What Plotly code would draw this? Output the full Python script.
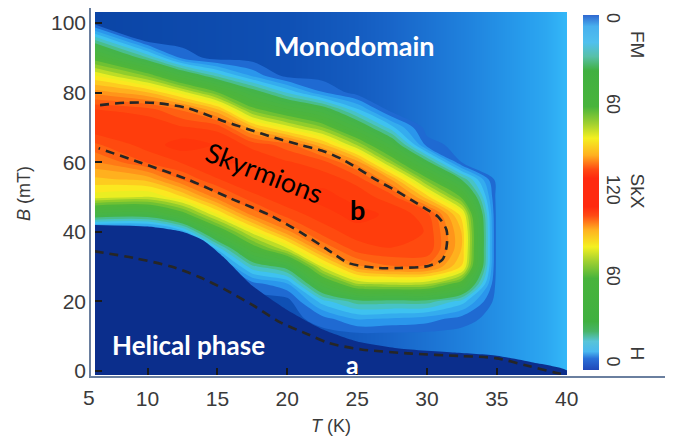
import plotly.graph_objects as go

# ---------------- data ----------------
# skyrmion density map (0 = none, 120 = full SkX); rows = B values, cols = T values
sk_T = [6, 10, 12.5, 15, 17.5, 20, 22.5, 25, 27.5, 30, 32.5, 35, 40]
sk_B = [0, 5, 10, 15, 20, 25, 30, 35, 40, 45, 50, 55, 60, 65, 70, 75, 80, 85, 90, 95, 100, 105]
sk_z = [
    [0, 0, 0, 0, 0, 0, 0, 0, 0, 0, 0, 0, 0],            # B 0
    [0, 0, 0, 0, 0, 0, 0, 0, 0, 0, 0, 0, 0],            # B 5
    [0, 0, 0, 0, 0, 0, 0, 0, 0, 0, 0, 0, 0],            # B 10
    [0, 0, 0, 0, 0, 0, 5, 13, 12, 10, 5, 0, 0],         # B 15
    [0, 0, 0, 0, 0, 0, 20, 30, 30, 30, 20, 0, 0],       # B 20
    [0, 0, 0, 0, 5, 12, 46, 67, 69, 68, 52, 0, 0],      # B 25
    [0, 0, 0, 0, 26, 36, 73, 96, 102, 101, 82, 0, 0],   # B 30
    [0, 0, 0, 18, 51, 71, 97, 110, 112, 112, 87, 0, 0], # B 35
    [0, 0, 14, 49, 75, 96, 110, 115, 117, 112, 87, 0, 0],      # B 40
    [40, 38, 53, 77, 99, 110, 115, 120, 116, 110, 80, 0, 0],   # B 45
    [75, 72, 82, 100, 111, 116, 120, 115, 110, 85, 56, 0, 0],  # B 50
    [86, 89, 103, 112, 117, 118, 115, 111, 92, 60, 32, 0, 0],  # B 55
    [96, 108, 113, 118, 117, 113, 110, 95, 64, 35, 2, 0, 0],   # B 60
    [106, 115, 120, 117, 111, 105, 89, 67, 41, 5, 0, 0, 0],    # B 65
    [116, 117, 113, 111, 89, 75, 63, 42, 19, 0, 0, 0, 0],      # B 70
    [113, 110, 102, 89, 61, 49, 39, 19, 0, 0, 0, 0, 0],        # B 75
    [96, 88, 75, 58, 38, 22, 8, 0, 0, 0, 0, 0, 0],             # B 80
    [78, 61, 42, 25, 11, 0, 0, 0, 0, 0, 0, 0, 0],              # B 85
    [55, 28, 6, 0, 0, 0, 0, 0, 0, 0, 0, 0, 0],                 # B 90
    [30, 0, 0, 0, 0, 0, 0, 0, 0, 0, 0, 0, 0],                  # B 95
    [2, 0, 0, 0, 0, 0, 0, 0, 0, 0, 0, 0, 0],                   # B 100
    [0, 0, 0, 0, 0, 0, 0, 0, 0, 0, 0, 0, 0],                   # B 105
]

# monodomain (field-polarised) background shade versus T
fm_T = [6, 10, 15, 20, 25, 30, 33, 36, 38.5, 40]
fm_shade = [0, 0.05, 0.12, 0.2, 0.32, 0.5, 0.62, 0.76, 0.88, 1.0]

# upper edge of the helical phase region
hel_T = [6, 10, 12.5, 14, 15.5, 17.5, 20, 22.5, 25, 28, 32, 35, 37.5, 40]
hel_B = [42, 41.5, 40, 37.5, 32.5, 24.5, 17.5, 12, 8.5, 6.5, 5.3, 4.4, 2.5, 0.2]

# dashed boundary "a" (helical phase)
a_T = [6.2, 9.0, 11.7, 13.7, 15.5, 17.5, 19.5, 21.5, 23.0, 25.3, 28.9, 32.4, 34.9, 37.2, 39.2, 40.0]
a_B = [34.4, 32.5, 30.0, 27.0, 23.5, 19.0, 14.0, 10.5, 8.0, 6.2, 5.0, 4.3, 3.7, 1.5, -0.5, -1.0]

# dashed boundary "b" (skyrmion lattice)
b_T = [6.6, 8.5, 10.6, 12.9, 15.3, 17.2, 19.1, 21.0, 22.5, 24.0, 26.5, 27.7, 28.9, 30.0, 30.8,
       31.4, 31.4, 31.1, 30.1, 28.0, 26.5, 24.4, 23.2, 21.3, 18.9, 16.0, 12.9, 9.4, 6.5]
b_B = [76.4, 77.1, 77.0, 75.5, 72.0, 69.5, 67.0, 64.9, 63.3, 60.7, 54.6, 52.0, 49.1, 46.4, 44.3,
       40.5, 35.7, 32.0, 30.2, 29.6, 29.6, 31.0, 34.0, 39.0, 44.5, 49.5, 55.0, 60.0, 64.0]

x_ticks = [10, 15, 20, 25, 30, 35, 40]
y_ticks = [0, 20, 40, 60, 80, 100]
cb_vals = [0, 60, 120, 180, 240]
cb_text = ["0", "60", "120", "60", "0"]

# ---------------- styling ----------------
OFF = 8                      # page body margin of the browser
W, H = 673 - OFF, 437 - OFF
L, R, T, B = 95 - OFF, 106, 12 - OFF, 62
pw, ph = W - L - R, H - T - B

def px(xp):                  # window pixel x -> paper fraction
    return (xp - OFF - L) / pw

def py(yp):                  # window pixel y -> paper fraction
    return (H - B - (yp - OFF)) / ph

fm_scale = [[0, "#0b45a6"], [0.2, "#0f50b4"], [0.4, "#1864c8"], [0.6, "#1f80dc"],
            [0.8, "#279cec"], [1, "#34b8f8"]]

sk_scale = [
    [0.0, "rgba(31,106,210,0)"], [0.02, "rgba(31,106,210,0)"],
    [0.0417, "#1f6ad2"], [0.0833, "#2a96ec"], [0.167, "#3ec2f0"], [0.229, "#4cc4b0"],
    [0.29, "#44b44a"], [0.46, "#4fb63a"], [0.54, "#8fcc2c"], [0.625, "#eaee22"],
    [0.667, "#fbe820"], [0.75, "#ffb01e"], [0.833, "#ff7a16"], [0.9, "#ff5010"],
    [0.95, "#ff3e0c"], [1.0, "#ff360b"],
]

cb_scale = [
    [0.0, "#2048b8"], [0.032, "#2a70d8"], [0.052, "#4ab8f0"], [0.081, "#58c4d8"],
    [0.109, "#48b468"], [0.137, "#40b040"], [0.258, "#48b43c"], [0.306, "#a0d030"],
    [0.347, "#f4f020"], [0.395, "#ffb020"], [0.435, "#ff4a14"], [0.46, "#ff2a10"],
    [0.54, "#ff2a10"], [0.565, "#ff4a14"], [0.605, "#ffb020"], [0.653, "#f4f020"],
    [0.694, "#a0d030"], [0.742, "#48b43c"], [0.843, "#40b040"], [0.883, "#58c0a8"],
    [0.923, "#50c0ee"], [0.968, "#48b0ee"], [1.0, "#3068d0"],
]

fig = go.Figure()

fig.add_trace(go.Heatmap(
    x=fm_T, y=[-5, 110], z=[fm_shade, fm_shade], colorscale=fm_scale,
    zmin=0, zmax=1, zsmooth="best", showscale=False, hoverinfo="skip"))

fig.add_trace(go.Contour(
    x=sk_T, y=sk_B, z=sk_z, colorscale=sk_scale, zmin=0, zmax=120, zauto=False,
    autocontour=False,
    contours=dict(start=2.5, end=117.5, size=5, coloring="fill", showlines=False),
    line=dict(width=0, smoothing=0.9), showscale=False, hoverinfo="skip"))

fig.add_trace(go.Scatter(
    x=hel_T + [41, 5, 5], y=hel_B + [-5, -5, hel_B[0]], fill="toself",
    fillcolor="#0b2e8c", mode="lines", line=dict(width=0, shape="spline", smoothing=0.6),
    hoverinfo="skip", showlegend=False))

dash_style = dict(color="#262626", width=2.6, dash="9px,6px", shape="spline", smoothing=0.8)
fig.add_trace(go.Scatter(x=a_T, y=a_B, mode="lines", line=dash_style,
                         hoverinfo="skip", showlegend=False))
fig.add_trace(go.Scatter(x=b_T, y=b_B, mode="lines", line=dash_style,
                         hoverinfo="skip", showlegend=False))

# colour bar (two-sided H / SkX / FM scale)
fig.add_trace(go.Scatter(
    x=[None], y=[None], mode="markers", showlegend=False, hoverinfo="skip",
    marker=dict(color=[0], colorscale=cb_scale, cmin=-4, cmax=244, showscale=True,
                colorbar=dict(x=px(583), xanchor="left", xpad=0, thickness=16,
                              y=py(192.5), yanchor="middle", ypad=0,
                              len=355, lenmode="pixels", outlinewidth=0,
                              tickvals=cb_vals, ticktext=cb_text, tickangle=90,
                              ticks="",
                              tickfont=dict(family="Liberation Sans", size=18, color="#3a3a3a")))))

axis_font = dict(family="Liberation Sans", size=21, color="#3a3a3a")
title_font = dict(family="Liberation Sans", size=18, color="#3a3a3a")

fig.update_layout(
    width=W, height=H, autosize=False,
    margin=dict(l=L, r=R, t=T, b=B, autoexpand=False),
    paper_bgcolor="white", plot_bgcolor="white",
    hovermode=False,
    xaxis=dict(range=[6.24, 40.02], tickvals=x_ticks, ticks="inside", ticklen=7,
               tickwidth=2, tickcolor="#1a1a1a", showgrid=False, zeroline=False,
               showline=False, tickfont=axis_font, ticklabelstandoff=9,
               title=dict(text="<i>T</i> (K)", font=title_font, standoff=10)),
    yaxis=dict(range=[-1.15, 103.16], tickvals=y_ticks, ticks="inside", ticklen=7,
               tickwidth=2, tickcolor="#1a1a1a", showgrid=False, zeroline=False,
               showline=False, tickfont=axis_font, ticklabelstandoff=8,
               title=dict(text="<i>B</i> (mT)", font=title_font, standoff=15)),
    shapes=[dict(type="rect", xref="paper", yref="paper",
                 x0=px(90), x1=px(671), y0=py(377), y1=py(7),
                 line=dict(color="#6a7f9f", width=2), fillcolor="rgba(0,0,0,0)", layer="above")],
)

ann = [
    dict(text="5", xref="paper", yref="paper", x=px(89), y=py(397), showarrow=False,
         font=axis_font, xanchor="center", yanchor="middle"),
    dict(text="Monodomain", x=24.84, y=93.4, showarrow=False,
         font=dict(family="Lato", size=27, color="white", weight="bold")),
    dict(text="Helical phase", x=12.9, y=7.5, showarrow=False,
         font=dict(family="Lato", size=26, color="white", weight="bold")),
    dict(text="Skyrmions", x=18.4, y=56.9, showarrow=False, textangle=21,
         font=dict(family="Lato", size=27, color="black")),
    dict(text="b", x=25.05, y=46.3, showarrow=False,
         font=dict(family="Lato", size=27, color="black", weight="bold")),
    dict(text="a", x=24.7, y=2.0, showarrow=False,
         font=dict(family="Lato", size=25, color="white", weight="bold")),
    dict(text="FM", xref="paper", yref="paper", x=px(650), y=py(29), showarrow=False,
         textangle=90, font=dict(family="Liberation Sans", size=19, color="#3a3a3a")),
    dict(text="SkX", xref="paper", yref="paper", x=px(650), y=py(191), showarrow=False,
         textangle=90, font=dict(family="Liberation Sans", size=19, color="#3a3a3a")),
    dict(text="H", xref="paper", yref="paper", x=px(650), y=py(362), showarrow=False,
         textangle=90, font=dict(family="Liberation Sans", size=19, color="#3a3a3a")),
]
fig.update_layout(annotations=ann)

fig.write_html("out.html")
